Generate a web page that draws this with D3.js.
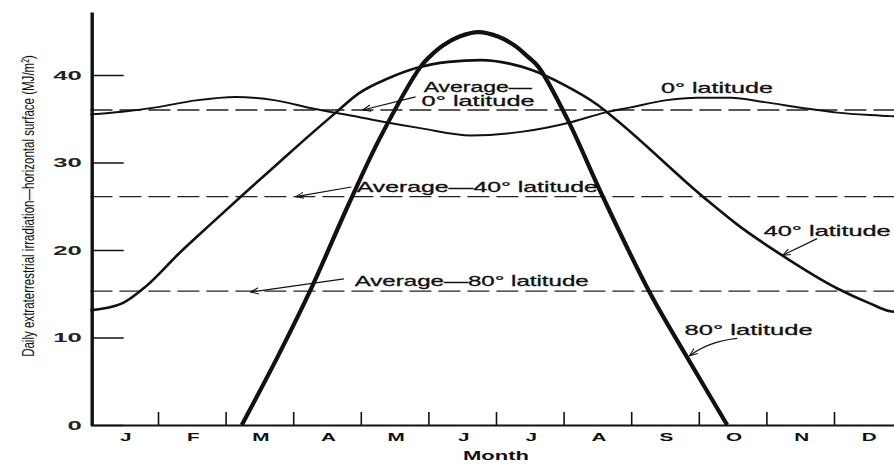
<!DOCTYPE html>
<html>
<head>
<meta charset="utf-8">
<script src="https://cdn.jsdelivr.net/npm/d3@7"></script>
<style>
  html, body { margin: 0; padding: 0; background: #fff; }
  svg { display: block; font-family: "Liberation Sans", Arial, sans-serif; }
</style>
</head>
<body>
<svg id="chart" width="894" height="464"></svg>
<script>
// ---- data -------------------------------------------------------------
const monthLabels = ["J", "F", "M", "A", "M", "J", "J", "A", "S", "O", "N", "D"];
const monthBoundaries = [1, 2, 3, 4, 5, 6, 7, 8, 9, 10, 11, 12];
const yTickValues = [0, 10, 20, 30, 40];

// [month position (0 = 1 Jan, 12 = 31 Dec), daily irradiation MJ/m²]
const lat0 = [
  [0, 35.5], [0.47, 35.8], [0.97, 36.3], [1.56, 37.1], [2.15, 37.5], [2.74, 37.1],
  [3.27, 36.2], [3.97, 35.2], [4.37, 34.6], [4.90, 33.9], [5.63, 33.1], [6.37, 33.5],
  [7.11, 34.6], [7.61, 35.7], [7.99, 36.3], [8.50, 37.1], [8.98, 37.4], [9.47, 37.4],
  [9.97, 36.9], [10.56, 36.2], [11.05, 35.7], [11.83, 35.3], [12, 35.2]
];
const lat40 = [
  [0, 13.1], [0.47, 13.9], [0.83, 15.9], [1.31, 19.6], [1.80, 23.1], [2.24, 26.2],
  [2.79, 30.0], [3.27, 33.3], [3.63, 35.7], [3.97, 37.9], [4.40, 39.6], [4.82, 40.8],
  [5.30, 41.5], [5.78, 41.7], [6.20, 41.3], [6.52, 40.6], [7.00, 38.9], [7.50, 36.6],
  [7.76, 35.0], [9.09, 25.9], [9.57, 22.9], [10.21, 19.5], [11.05, 15.6], [11.53, 13.9],
  [11.83, 13.0], [12, 12.9]
];
const lat80 = [
  [2.24, 0], [2.79, 8.1], [3.26, 15.5], [3.83, 25.4], [4.29, 32.9], [4.88, 40.9],
  [5.02, 42.1], [5.22, 43.4], [5.46, 44.4], [5.74, 44.9], [6.03, 44.4], [6.27, 43.4],
  [6.47, 42.1], [6.63, 40.9], [7.06, 34.9], [7.58, 26.1], [8.27, 15.2], [8.83, 7.7],
  [9.42, 0]
];
const averageValues = [36.0, 26.1, 15.3];

// ---- layout -------------------------------------------------------------
const W = 894, H = 464;
const svg = d3.select("#chart");
const ink = "#111";

const x = d3.scaleLinear().domain([0, 12]).range([90.4, 90.4 + 12 * 67.6]);
const y = d3.scaleLinear().domain([0, 47.2]).range([425, 425 - 47.2 * 8.75]);

// stretch text horizontally to a wide letterform
function widen(sel, k) {
  sel.each(function () {
    const w = this.getComputedTextLength();
    this.setAttribute("textLength", w * k);
    this.setAttribute("lengthAdjust", "spacingAndGlyphs");
  });
}

const defs = svg.append("defs");
defs.append("marker")
  .attr("id", "arrow")
  .attr("viewBox", "0 0 10 10")
  .attr("refX", 9).attr("refY", 5)
  .attr("markerWidth", 9).attr("markerHeight", 9)
  .attr("markerUnits", "userSpaceOnUse")
  .attr("orient", "auto")
  .append("path")
  .attr("d", "M0,1.5 L9,5 L0,8.5")
  .attr("fill", "none")
  .attr("stroke", ink)
  .attr("stroke-width", 1.2);

// ---- average (dashed) lines -------------------------------------------
svg.append("g").selectAll("line")
  .data(averageValues)
  .join("line")
  .attr("x1", x(0)).attr("x2", W)
  .attr("y1", d => y(d)).attr("y2", d => y(d))
  .attr("stroke", "#222")
  .attr("stroke-width", 1.4)
  .attr("stroke-dasharray", "22,7");

// ---- x axis: month boundary ticks ---------------------------------------
const xTicks = svg.append("g")
  .attr("transform", `translate(0,${y(0)})`)
  .call(d3.axisBottom(x).tickValues(monthBoundaries).tickSize(-13).tickSizeOuter(0).tickFormat(""));
xTicks.select(".domain").attr("stroke", ink).attr("stroke-width", 2);
xTicks.selectAll(".tick line").attr("stroke", ink).attr("stroke-width", 1.6);

// month letters centred in each month
const xLabels = svg.append("g")
  .attr("transform", `translate(1,${y(0)})`)
  .call(d3.axisBottom(x)
    .tickValues(d3.range(12).map(i => i + 0.5))
    .tickFormat(d => monthLabels[Math.floor(d)])
    .tickSize(0).tickPadding(8));
xLabels.select(".domain").remove();
xLabels.selectAll("text")
  .attr("font-family", "Liberation Sans, Arial, sans-serif")
  .attr("font-size", 11.5)
  .attr("font-weight", "bold")
  .attr("fill", ink)
  .call(widen, 1.8);

svg.append("text")
  .attr("x", 496).attr("y", 460)
  .attr("text-anchor", "middle")
  .attr("font-size", 12.5)
  .attr("font-weight", "bold")
  .attr("fill", ink)
  .attr("textLength", 66)
  .attr("lengthAdjust", "spacingAndGlyphs")
  .text("Month");

// ---- y axis ---------------------------------------------------------------
const yAxis = svg.append("g")
  .attr("transform", `translate(${x(0) + 1.3},0)`)
  .call(d3.axisLeft(y).tickValues(yTickValues).tickSize(-32).tickSizeOuter(0).tickPadding(10));
yAxis.select(".domain").attr("stroke", ink).attr("stroke-width", 3.4);
yAxis.selectAll(".tick line").attr("stroke", ink).attr("stroke-width", 1.5);
yAxis.selectAll("text")
  .attr("font-family", "Liberation Sans, Arial, sans-serif")
  .attr("font-size", 13.5)
  .attr("font-weight", "bold")
  .attr("fill", "#222")
  .call(widen, 1.9);

// vertical title: sized to fit its run, then thickened across the run
const yTitle = svg.append("text")
  .attr("text-anchor", "middle")
  .attr("font-family", "Liberation Sans Narrow, Liberation Sans, Arial, sans-serif")
  .attr("font-size", 16)
  .attr("fill", ink)
  .text("Daily extraterrestrial irradiation\u2014horizontal surface (MJ/m\u00B2)");
const titleRun = 302;
const natural = yTitle.node().getComputedTextLength();
const fs = 16 * titleRun / natural;
yTitle.attr("font-size", fs)
  .attr("transform", `translate(33.5,206) scale(${17 / fs},1) rotate(-90)`);

// ---- curves -----------------------------------------------------------
const smooth = d3.line()
  .x(d => x(d[0]))
  .y(d => y(d[1]))
  .curve(d3.curveMonotoneX);
const rounded = d3.line()
  .x(d => x(d[0]))
  .y(d => y(d[1]))
  .curve(d3.curveCatmullRom.alpha(0.5));

const series = [
  { data: lat0, width: 2.0, gen: smooth },
  { data: lat40, width: 2.6, gen: smooth },
  { data: lat80, width: 4.2, gen: rounded }
];
svg.append("g").selectAll("path")
  .data(series)
  .join("path")
  .attr("d", d => d.gen(d.data))
  .attr("fill", "none")
  .attr("stroke", ink)
  .attr("stroke-width", d => d.width)
  .attr("stroke-linejoin", "round");

// ---- annotations (positions in data units) ------------------------------
const notes = [
  { text: "Average\u2014", at: [4.93, 38.1], len: 108 },
  { text: "0\u00B0 latitude", at: [4.90, 36.45], len: 113 },
  { text: "Average\u201440\u00B0 latitude", at: [3.94, 26.65], len: 241 },
  { text: "Average\u201480\u00B0 latitude", at: [3.91, 15.9], len: 234 },
  { text: "0\u00B0 latitude", at: [8.44, 38.0], len: 112 },
  { text: "40\u00B0 latitude", at: [9.96, 21.6], len: 127 },
  { text: "80\u00B0 latitude", at: [8.79, 10.3], len: 128 }
];
svg.append("g").selectAll("text")
  .data(notes)
  .join("text")
  .attr("x", d => x(d.at[0]))
  .attr("y", d => y(d.at[1]))
  .attr("font-size", 14.5)
  .attr("fill", ink)
  .attr("stroke", ink)
  .attr("stroke-width", 0.3)
  .attr("textLength", d => d.len)
  .attr("lengthAdjust", "spacingAndGlyphs")
  .text(d => d.text);

const arrows = [
  { from: [4.81, 37.5], to: [4.03, 36.0], bend: 0 },
  { from: [3.86, 27.2], to: [3.04, 26.1], bend: 0 },
  { from: [3.75, 16.7], to: [2.37, 15.2], bend: 0 },
  { from: [10.75, 21.3], to: [10.24, 19.4], bend: 0 },
  { from: [9.57, 9.9], to: [8.86, 7.9], bend: 1 }
];
svg.append("g").selectAll("path")
  .data(arrows)
  .join("path")
  .attr("d", d => {
    const x1 = x(d.from[0]), y1 = y(d.from[1]);
    const x2 = x(d.to[0]), y2 = y(d.to[1]);
    if (!d.bend) return `M${x1},${y1} L${x2},${y2}`;
    const cx = (x1 + x2) / 2 - 4, cy = (y1 + y2) / 2 - 6;
    return `M${x1},${y1} Q${cx},${cy} ${x2},${y2}`;
  })
  .attr("fill", "none")
  .attr("stroke", ink)
  .attr("stroke-width", 1.2)
  .attr("marker-end", "url(#arrow)");
</script>
</body>
</html>
